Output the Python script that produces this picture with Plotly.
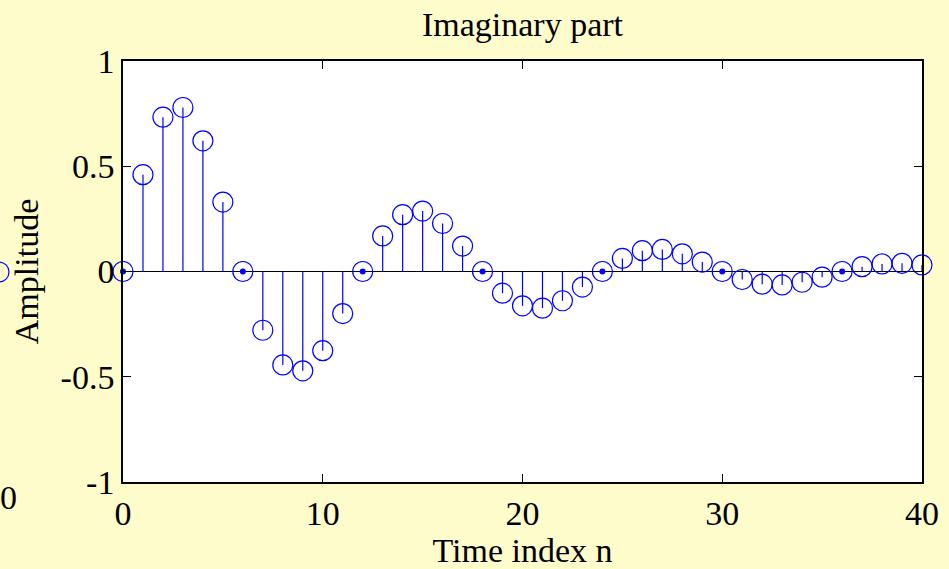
import plotly.graph_objects as go

n = list(range(41))
values = [0.0, 0.460, 0.733, 0.779, 0.621, 0.330, 0.0, -0.279, -0.444, -0.472,
          -0.376, -0.200, 0.0, 0.169, 0.270, 0.287, 0.228, 0.121, 0.0, -0.103,
          -0.163, -0.174, -0.139, -0.074, 0.0, 0.062, 0.099, 0.105, 0.084, 0.045,
          0.0, -0.038, -0.060, -0.064, -0.051, -0.027, 0.0, 0.023, 0.036, 0.039, 0.031]
x_ticks = [0, 10, 20, 30, 40]
x_ticktext = ["0", "10", "20", "30", "40"]
y_ticks = [-1, -0.5, 0, 0.5, 1]
y_ticktext = ["-1", "-0.5", "0", "0.5", "1"]

BLUE = "#0000ff"
BG = "#fffccc"
FONT = "Liberation Serif, Times New Roman, serif"
FS = 34

sx, sy = [], []
for xi, yi in zip(n, values):
    sx += [xi, xi, None]
    sy += [0, yi, None]

fig = go.Figure()
fig.add_trace(go.Scatter(x=[n[0], n[-1]], y=[0, 0], mode="lines",
                         line=dict(color="black", width=1.2), hoverinfo="skip"))
fig.add_trace(go.Scatter(x=sx, y=sy, mode="lines",
                         line=dict(color=BLUE, width=1.2), hoverinfo="skip"))
zx = [xi for xi, yi in zip(n, values) if yi == 0]
zy = [yi for yi in values if yi == 0]
fig.add_trace(go.Scatter(x=zx, y=zy, mode="markers", cliponaxis=False,
                         marker=dict(color=BLUE, size=6, symbol="circle")))
fig.add_trace(go.Scatter(x=n, y=values, mode="markers", cliponaxis=False,
                         marker=dict(color=BLUE, size=20, symbol="circle-open",
                                     line=dict(color=BLUE, width=1.2))))

W, H = 949, 569
L, R, T, B = 123, 27, 61, 87
pw, ph = W - L - R, H - T - B

def px_x(p):
    return (p - L) / pw

def px_y(p):
    return (H - B - p) / ph

fig.update_layout(
    width=W, height=H,
    margin=dict(l=L, r=R, t=T, b=B, autoexpand=False),
    paper_bgcolor=BG, plot_bgcolor="white",
    showlegend=False,
    font=dict(family=FONT, size=FS, color="black"),
    title=dict(text="Imaginary part", xref="paper", x=0.5, xanchor="center",
               yref="container", y=1 - 24 / H, yanchor="middle",
               font=dict(family=FONT, size=FS, color="black")),
    xaxis=dict(range=[0, 40], tickvals=x_ticks, ticktext=x_ticktext, ticks="inside",
               ticklen=8, tickcolor="black", showline=True, linecolor="black", linewidth=1.5,
               mirror="ticks", showgrid=False, zeroline=False, automargin=False,
               title=dict(text="Time index n", standoff=13, font=dict(family=FONT, size=FS))),
    yaxis=dict(range=[-1, 1], tickvals=y_ticks, ticktext=y_ticktext, ticks="inside",
               ticklen=8, tickcolor="black", showline=True, linecolor="black", linewidth=1.5,
               mirror="ticks", showgrid=False, zeroline=False, automargin=False,
               title=dict(text="Amplitude", standoff=12, font=dict(family=FONT, size=FS))),
)

# partial neighbouring subplot visible at the left edge
fig.add_annotation(x=px_x(8), y=px_y(498), xref="paper", yref="paper", text="0",
                   xanchor="center", yanchor="middle",
                   showarrow=False, font=dict(family=FONT, size=FS, color="black"))
fig.add_shape(type="circle", xref="paper", yref="paper",
              x0=px_x(-11), x1=px_x(9), y0=px_y(282), y1=px_y(262),
              line=dict(color=BLUE, width=1.2))

fig.write_html("out.html", config={"displayModeBar": False},
               post_script="document.body.style.margin='0';document.body.style.background='%s';" % BG)
